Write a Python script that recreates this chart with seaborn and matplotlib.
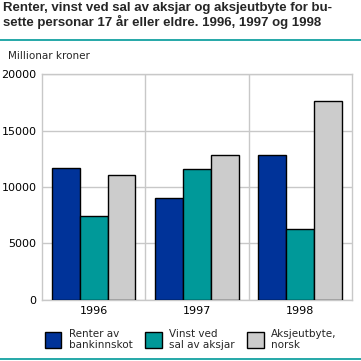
import pandas as pd
import seaborn as sns
import matplotlib.pyplot as plt
from matplotlib.lines import Line2D

years = ["1996", "1997", "1998"]
series = ["Renter av\nbankinnskot", "Vinst ved\nsal av aksjar", "Aksjeutbyte,\nnorsk"]
renter = [11700, 9000, 12800]
vinst = [7400, 11600, 6250]
utbyte = [11100, 12800, 17600]
colors = ["#003399", "#009999", "#cccccc"]

df = pd.DataFrame({
    "year": years * 3,
    "serie": [series[0]] * 3 + [series[1]] * 3 + [series[2]] * 3,
    "value": renter + vinst + utbyte,
})

sns.set_style("white")
plt.rcParams["font.family"] = ["DejaVu Sans"]

fig = plt.figure(figsize=(3.61, 3.61), dpi=100)
ax = fig.add_axes([0.1163, 0.169, 0.8587, 0.626])

sns.barplot(data=df, x="year", y="value", hue="serie", palette=colors,
            width=0.81, edgecolor="black", linewidth=1.0, saturation=1,
            ax=ax, zorder=3)

ax.set_xlim(-0.5, 2.5)
ax.set_ylim(0, 20000)
ax.set_yticks([0, 5000, 10000, 15000, 20000])
ax.set_xlabel("")
ax.set_ylabel("")
ax.tick_params(length=0, labelsize=8, colors="black", pad=4)
for s in ax.spines.values():
    s.set_color("#c8c8c8")
    s.set_linewidth(1)
ax.grid(axis="y", color="#c8c8c8", linewidth=1, zorder=0)
for xv in [0.5, 1.5]:
    ax.axvline(xv, color="#c8c8c8", linewidth=1, zorder=0)

handles, labels = ax.get_legend_handles_labels()
ax.get_legend().remove()
fig.legend(handles, labels, ncol=3, loc="lower left", bbox_to_anchor=(0.124, 0.03),
           frameon=False, fontsize=7.5, handlelength=1.6, handleheight=2.1,
           handletextpad=0.7, columnspacing=1.2, labelspacing=0.2,
           borderaxespad=0, borderpad=0)

fig.text(0.008, 0.995, "Renter, vinst ved sal av aksjar og aksjeutbyte for bu-\nsette personar 17 år eller eldre. 1996, 1997 og 1998",
         fontsize=9.5, fontweight="bold", family="Liberation Sans",
         va="top", ha="left", linespacing=1.1)
fig.text(0.022, 0.845, "Millionar kroner", fontsize=7.5, va="center", ha="left")
fig.add_artist(Line2D([0, 1], [0.889, 0.889], color="#009999", linewidth=1.2))
fig.add_artist(Line2D([0, 1], [0.006, 0.006], color="#009999", linewidth=1.2))

fig.savefig("out.png", dpi=100)
